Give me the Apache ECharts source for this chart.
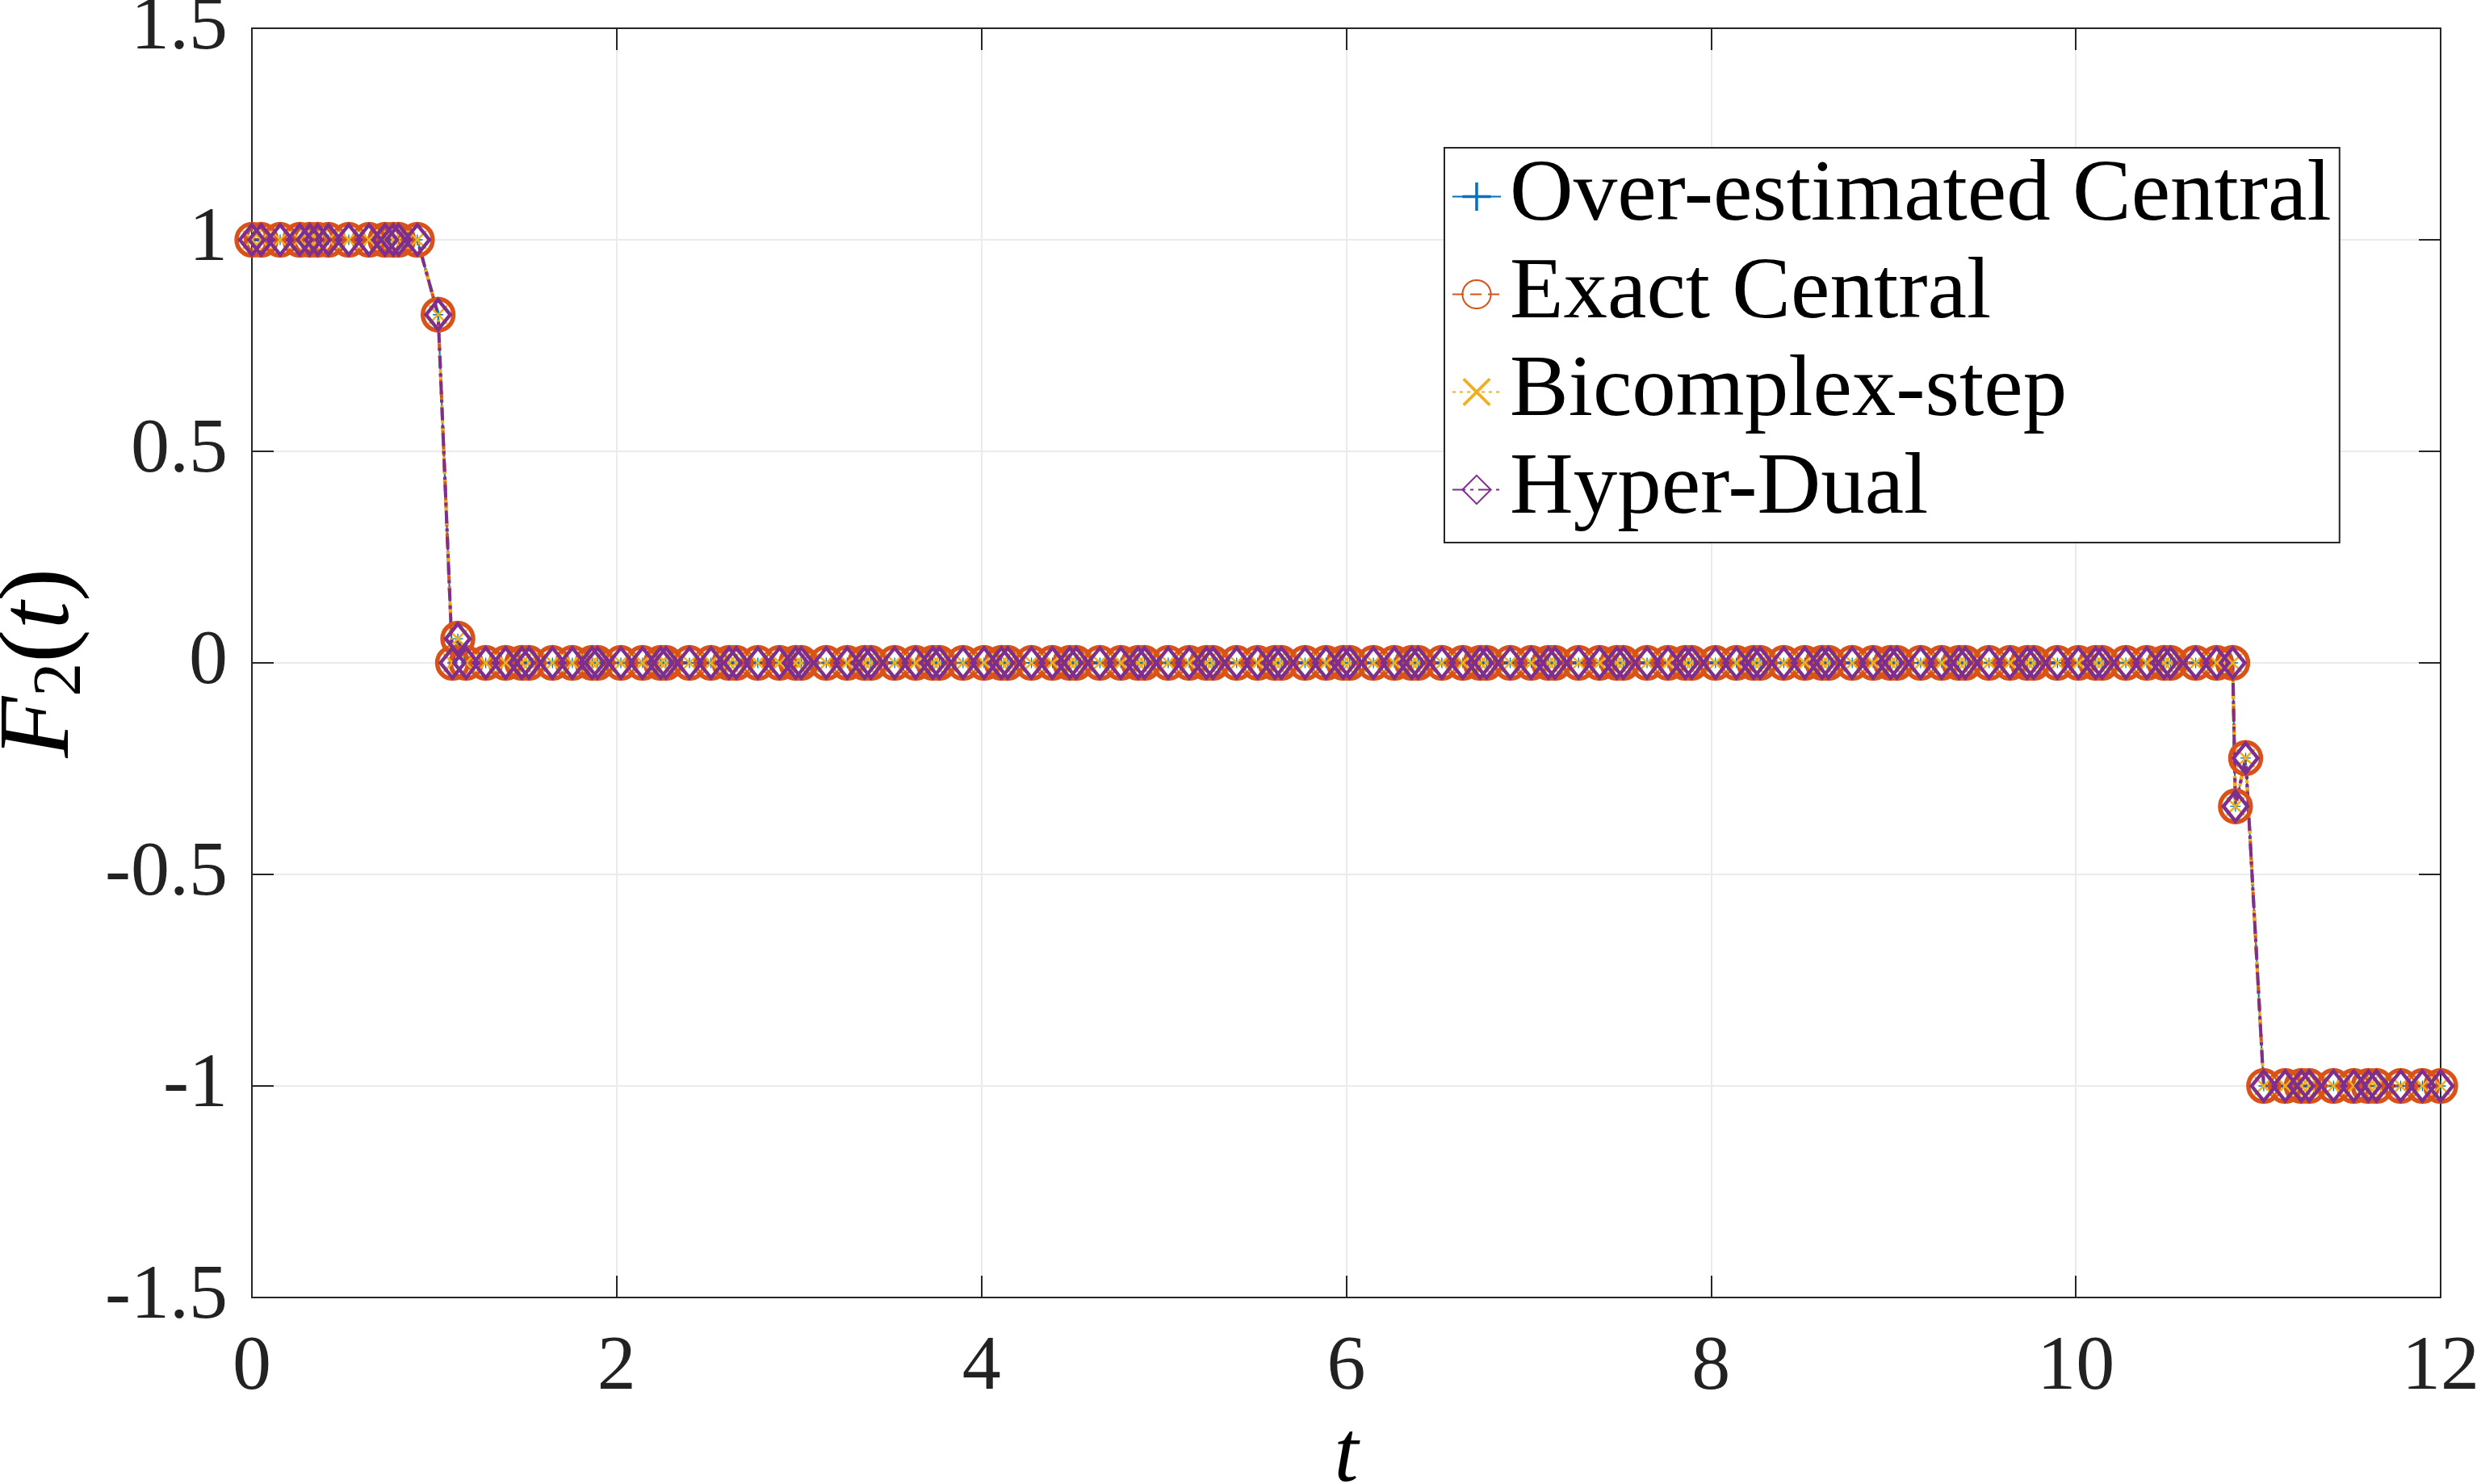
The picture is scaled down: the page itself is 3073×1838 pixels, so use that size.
<!DOCTYPE html>
<html>
<head>
<meta charset="utf-8">
<script src="https://cdn.jsdelivr.net/npm/echarts@6/dist/echarts.min.js"></script>
<style>
  html, body { margin: 0; padding: 0; background: #fff; }
  #mainChart { width: 3073px; height: 1838px; }
</style>
</head>
<body>
<div id="mainChart"></div>
<script>
// sample times where F2 = 1
var tOne = [0, 0.051, 0.155, 0.262, 0.317, 0.361, 0.42, 0.531, 0.642, 0.73, 0.775, 0.804, 0.907];
// first drop
var tDrop1 = [1.021, 1.100, 1.129, 1.174];
var fDrop1 = [0.823, 0, 0.057, 0];
// sample times where F2 = 0
var tZero = [
    1.282, 1.391, 1.480, 1.519,
    1.648, 1.757, 1.865, 1.895,
    2.023, 2.142, 2.241, 2.270,
    2.399, 2.517, 2.616, 2.656,
    2.774, 2.893, 2.982, 3.012,
    3.149, 3.264, 3.359, 3.394,
    3.524, 3.639, 3.734, 3.769,
    3.899, 4.014, 4.109, 4.144,
    4.274, 4.389, 4.484, 4.519,
    4.649, 4.764, 4.859, 4.894,
    5.024, 5.139, 5.234, 5.269,
    5.399, 5.514, 5.609, 5.644,
    5.774, 5.889, 5.984, 6.019,
    6.149, 6.264, 6.359, 6.394,
    6.524, 6.639, 6.734, 6.769,
    6.899, 7.014, 7.109, 7.144,
    7.274, 7.389, 7.484, 7.519,
    7.649, 7.764, 7.859, 7.894,
    8.024, 8.139, 8.234, 8.269,
    8.399, 8.514, 8.609, 8.644,
    8.774, 8.889, 8.984, 9.019,
    9.149, 9.264, 9.359, 9.394,
    9.524, 9.639, 9.734, 9.769,
    9.899, 10.014, 10.109, 10.144,
    10.274, 10.389, 10.484, 10.519,
    10.657, 10.772, 10.860
];
// second drop
var tDrop2 = [10.875, 10.931];
var fDrop2 = [-0.339, -0.225];
// sample times where F2 = -1
var tMinusOne = [11.030, 11.148, 11.236, 11.280, 11.413, 11.524, 11.603, 11.648, 11.781, 11.900, 12.0];

var seriesNames = ['Over-estimated Central', 'Exact Central', 'Bicomplex-step', 'Hyper-Dual'];
var seriesColors = ['#0072BD', '#D95319', '#EDB120', '#7E2F8E'];

var fontFamily = 'Liberation Serif, Times New Roman, serif';

function buildData() {
    var d = [];
    tOne.forEach(function (t) { d.push([t, 1]); });
    tDrop1.forEach(function (t, i) { d.push([t, fDrop1[i]]); });
    tZero.forEach(function (t) { d.push([t, 0]); });
    tDrop2.forEach(function (t, i) { d.push([t, fDrop2[i]]); });
    tMinusOne.forEach(function (t) { d.push([t, -1]); });
    return d;
}
var f2Data = buildData();

var plusPath = 'path://M9,0h2v20h-2z M0,9h20v2h-20z';
var crossPath = 'path://M1.5,0 L10,8.5 L18.5,0 L20,1.5 L11.5,10 L20,18.5 L18.5,20 L10,11.5 L1.5,20 L0,18.5 L8.5,10 L0,1.5 Z';

var axisColor = '#262626';
var gridColor = '#ebebeb';

var myChart = echarts.init(document.getElementById('mainChart'));

var option = {
    backgroundColor: '#fff',
    animation: false,
    grid: {
        left: 312,
        right: 50,
        top: 35,
        bottom: 231,
        containLabel: false,
        outerBoundsMode: 'none'
    },
    legend: {
        orient: 'vertical',
        left: 1789,
        top: 183,
        padding: [6, 10, 11, 9],
        itemWidth: 60,
        itemHeight: 44,
        itemGap: 12,
        backgroundColor: '#fff',
        borderColor: axisColor,
        borderWidth: 2,
        borderRadius: 0,
        textStyle: {
            fontFamily: fontFamily,
            fontSize: 109,
            lineHeight: 104,
            color: '#000',
            padding: [0, 0, 0, 6]
        },
        data: seriesNames
    },
    xAxis: [{
        type: 'value',
        min: 0,
        max: 12,
        interval: 2,
        position: 'bottom',
        name: 't',
        nameLocation: 'middle',
        nameGap: 145,
        nameTextStyle: {
            fontFamily: fontFamily,
            fontStyle: 'italic',
            fontSize: 108,
            color: '#000'
        },
        axisLine: { show: true, onZero: false, lineStyle: { color: axisColor, width: 2 } },
        axisTick: { show: true, inside: true, length: 27, lineStyle: { color: axisColor, width: 2 } },
        axisLabel: { fontFamily: fontFamily, fontSize: 96, color: '#222', margin: 40 },
        splitLine: { show: true, lineStyle: { color: gridColor, width: 2 } }
    }, {
        type: 'value',
        min: 0,
        max: 12,
        interval: 2,
        position: 'top',
        axisLine: { show: true, onZero: false, lineStyle: { color: axisColor, width: 2 } },
        axisTick: { show: true, inside: true, length: 27, lineStyle: { color: axisColor, width: 2 } },
        axisLabel: { show: false },
        splitLine: { show: false }
    }],
    yAxis: [{
        type: 'value',
        min: -1.5,
        max: 1.5,
        interval: 0.5,
        position: 'left',
        name: '{i|F}{s|2}{n|(}{i|t}{n|)}',
        nameLocation: 'middle',
        nameGap: 190,
        nameRotate: 90,
        nameTextStyle: {
            color: '#000',
            rich: {
                i: { fontFamily: fontFamily, fontStyle: 'italic', fontSize: 124, lineHeight: 136, verticalAlign: 'middle' },
                n: { fontFamily: fontFamily, fontSize: 124, lineHeight: 136, verticalAlign: 'middle' },
                s: { fontFamily: fontFamily, fontSize: 84, lineHeight: 84, verticalAlign: 'bottom' }
            }
        },
        axisLine: { show: true, onZero: false, lineStyle: { color: axisColor, width: 2 } },
        axisTick: { show: true, inside: true, length: 27, lineStyle: { color: axisColor, width: 2 } },
        axisLabel: { fontFamily: fontFamily, fontSize: 96, color: '#222', margin: 30 },
        splitLine: { show: true, lineStyle: { color: gridColor, width: 2 } }
    }, {
        type: 'value',
        min: -1.5,
        max: 1.5,
        interval: 0.5,
        position: 'right',
        axisLine: { show: true, onZero: false, lineStyle: { color: axisColor, width: 2 } },
        axisTick: { show: true, inside: true, length: 27, lineStyle: { color: axisColor, width: 2 } },
        axisLabel: { show: false },
        splitLine: { show: false }
    }],
    series: [{
        name: seriesNames[0],
        type: 'line',
        data: f2Data,
        symbol: plusPath,
        symbolSize: 13,
        itemStyle: { color: seriesColors[0] },
        lineStyle: { color: seriesColors[0], width: 2, type: 'solid' }
    }, {
        name: seriesNames[1],
        type: 'line',
        data: f2Data,
        symbol: 'circle',
        symbolSize: [38, 39],
        itemStyle: { color: 'none', borderColor: seriesColors[1], borderWidth: 5.5 },
        lineStyle: { color: seriesColors[1], width: 4, type: [14, 8] }
    }, {
        name: seriesNames[2],
        type: 'line',
        data: f2Data,
        symbol: crossPath,
        symbolSize: 24,
        itemStyle: { color: seriesColors[2] },
        lineStyle: { color: seriesColors[2], width: 4, type: [4, 5] }
    }, {
        name: seriesNames[3],
        type: 'line',
        data: f2Data,
        symbol: 'diamond',
        symbolSize: [30, 37],
        itemStyle: { color: 'none', borderColor: seriesColors[3], borderWidth: 4.5 },
        lineStyle: { color: seriesColors[3], width: 4, type: [16, 6, 4, 6] }
    }]
};

myChart.setOption(option);
</script>
</body>
</html>
